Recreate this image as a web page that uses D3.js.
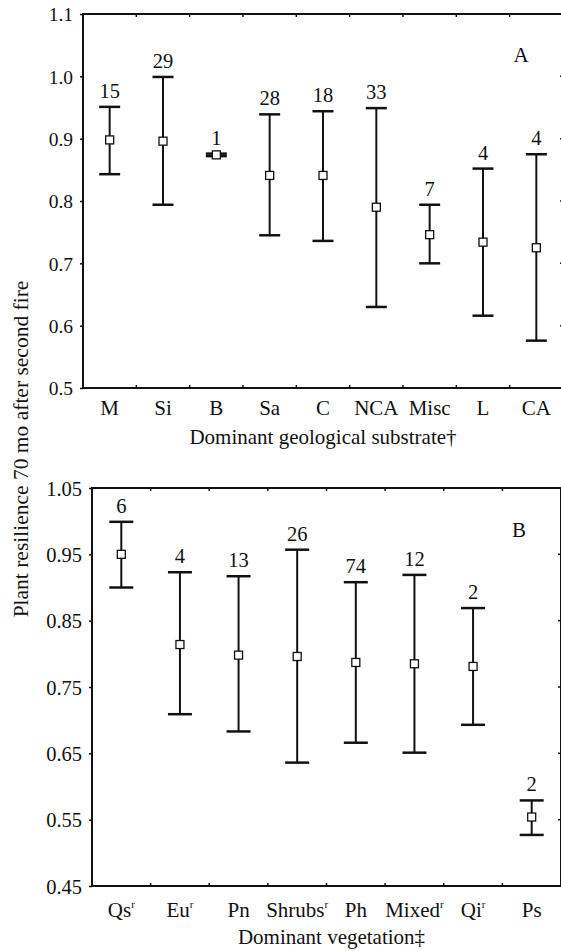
<!DOCTYPE html>
<html>
<head>
<meta charset="utf-8">
<script src="https://cdn.jsdelivr.net/npm/d3@7"></script>
<style>
  body { margin: 0; background: #fff; }
  svg { display: block; }
  text { font-family: "Liberation Serif", "Times New Roman", serif; fill: #111; }
</style>
</head>
<body>
<div id="chart"></div>
<script>
// panel A: geological substrate
var substrate = ['M', 'Si', 'B', 'Sa', 'C', 'NCA', 'Misc', 'L', 'CA']
var substrateMean = [0.898, 0.896, 0.874, 0.841, 0.841, 0.790, 0.746, 0.734, 0.725]
var substrateHigh = [0.951, 0.999, 0.876, 0.939, 0.944, 0.949, 0.794, 0.852, 0.875]
var substrateLow  = [0.843, 0.794, 0.872, 0.745, 0.736, 0.630, 0.700, 0.616, 0.576]
var substrateN    = [15, 29, 1, 28, 18, 33, 7, 4, 4]
var substrateTicks = [0.5, 0.6, 0.7, 0.8, 0.9, 1.0, 1.1]

// panel B: vegetation (r = superscript mark)
var vegetation = ['Qs', 'Eu', 'Pn', 'Shrubs', 'Ph', 'Mixed', 'Qi', 'Ps']
var vegetationSup = ['r', 'r', '', 'r', '', 'r', 'r', '']
var vegetationMean = [0.950, 0.814, 0.798, 0.796, 0.787, 0.785, 0.781, 0.554]
var vegetationHigh = [0.999, 0.923, 0.917, 0.957, 0.908, 0.919, 0.869, 0.579]
var vegetationLow  = [0.900, 0.709, 0.683, 0.636, 0.666, 0.651, 0.693, 0.527]
var vegetationN    = [6, 4, 13, 26, 74, 12, 2, 2]
var vegetationTicks = [0.45, 0.55, 0.65, 0.75, 0.85, 0.95, 1.05]

const W = 561, H = 951

const svg = d3.select('#chart').append('svg')
    .attr('width', W)
    .attr('height', H)

function drawPanel(opt) {
    const g = svg.append('g')

    const x = d3.scaleBand()
        .domain(opt.cats)
        .range([opt.left, opt.right])
        .padding(0)

    const y = d3.scaleLinear()
        .domain(opt.domain)
        .range([opt.bottom, opt.top])

    // left axis, small outward ticks
    const yAxis = d3.axisLeft(y)
        .tickValues(opt.ticks)
        .tickFormat(opt.fmt)
        .tickSize(3)
        .tickPadding(7)
    const ya = g.append('g')
        .attr('transform', `translate(${opt.left},0)`)
        .call(yAxis)
        .attr('font-family', null)
    ya.select('.domain').remove()
    ya.selectAll('line').attr('stroke', '#111').attr('stroke-width', 1.5)
    ya.selectAll('text').attr('font-size', opt.tickFont).attr('dy', '0.35em')

    // right side inner ticks
    g.selectAll('.rtick')
        .data(opt.ticks.slice(1, -1))
        .enter()
        .append('line')
        .attr('x1', opt.right - 3)
        .attr('x2', opt.right)
        .attr('y1', d => y(d))
        .attr('y2', d => y(d))
        .attr('stroke', '#111')
        .attr('stroke-width', 1.5)

    // ticks between categories, top and bottom, inward
    const bounds = opt.cats.slice(1).map(c => x(c))
    g.selectAll('.btick')
        .data(bounds)
        .enter()
        .append('line')
        .attr('x1', d => d).attr('x2', d => d)
        .attr('y1', opt.bottom).attr('y2', opt.bottom - 3)
        .attr('stroke', '#111').attr('stroke-width', 1.5)
    g.selectAll('.ttick')
        .data(bounds)
        .enter()
        .append('line')
        .attr('x1', d => d).attr('x2', d => d)
        .attr('y1', opt.top).attr('y2', opt.top + 3)
        .attr('stroke', '#111').attr('stroke-width', 1.5)

    // frame
    g.append('rect')
        .attr('x', opt.left)
        .attr('y', opt.top)
        .attr('width', opt.right - opt.left)
        .attr('height', opt.bottom - opt.top)
        .attr('fill', 'none')
        .attr('stroke', '#111')
        .attr('stroke-width', 2)

    const cx = d => x(d) + x.bandwidth() / 2
    const capW = opt.capW

    const bars = g.selectAll('.bar')
        .data(opt.cats)
        .enter()
        .append('g')

    bars.append('line')
        .attr('x1', cx).attr('x2', cx)
        .attr('y1', (d, i) => y(opt.high[i]))
        .attr('y2', (d, i) => y(opt.low[i]))
        .attr('stroke', '#111').attr('stroke-width', 2)
    bars.append('line')
        .attr('x1', d => cx(d) - capW).attr('x2', d => cx(d) + capW)
        .attr('y1', (d, i) => y(opt.high[i]))
        .attr('y2', (d, i) => y(opt.high[i]))
        .attr('stroke', '#111').attr('stroke-width', 2.5)
    bars.append('line')
        .attr('x1', d => cx(d) - capW).attr('x2', d => cx(d) + capW)
        .attr('y1', (d, i) => y(opt.low[i]))
        .attr('y2', (d, i) => y(opt.low[i]))
        .attr('stroke', '#111').attr('stroke-width', 2.5)
    bars.append('rect')
        .attr('x', d => cx(d) - 4)
        .attr('y', (d, i) => y(opt.mean[i]) - 4)
        .attr('width', 8).attr('height', 8)
        .attr('fill', '#fff')
        .attr('stroke', '#111').attr('stroke-width', 1.3)
    bars.append('text')
        .attr('x', cx)
        .attr('y', (d, i) => y(opt.high[i]) - 9)
        .attr('text-anchor', 'middle')
        .attr('font-size', 20.5)
        .text((d, i) => opt.n[i])

    // category labels
    const lab = g.selectAll('.cat')
        .data(opt.cats)
        .enter()
        .append('text')
        .attr('x', cx)
        .attr('y', opt.bottom + opt.catGap)
        .attr('text-anchor', 'middle')
        .attr('font-size', 21)
    lab.append('tspan').text(d => d)
    lab.append('tspan')
        .attr('font-size', 11)
        .attr('dy', -9)
        .text((d, i) => opt.sup ? opt.sup[i] : '')

    // axis title
    g.append('text')
        .attr('x', (opt.left + opt.right) / 2 + opt.titleShift)
        .attr('y', opt.bottom + opt.titleGap)
        .attr('text-anchor', 'middle')
        .attr('font-size', 21)
        .text(opt.title)

    // panel letter
    g.append('text')
        .attr('x', opt.letterX)
        .attr('y', opt.letterY)
        .attr('text-anchor', 'middle')
        .attr('font-size', 21)
        .text(opt.letter)
}

drawPanel({
    cats: substrate, mean: substrateMean, high: substrateHigh, low: substrateLow,
    n: substrateN, ticks: substrateTicks, fmt: d3.format('.1f'), tickFont: 19.5,
    domain: [0.5, 1.1], left: 83, right: 563, top: 14, bottom: 388, capW: 10.5,
    catGap: 27, titleGap: 56,
    title: 'Dominant geological substrate\u2020', titleShift: 0,
    letter: 'A', letterX: 521, letterY: 62
})

drawPanel({
    cats: vegetation, sup: vegetationSup, mean: vegetationMean, high: vegetationHigh, low: vegetationLow,
    n: vegetationN, ticks: vegetationTicks, fmt: d3.format('.2f'), tickFont: 20.5,
    domain: [0.45, 1.05], left: 92, right: 561, top: 488, bottom: 886, capW: 12,
    catGap: 31, titleGap: 58,
    title: 'Dominant vegetation\u2021', titleShift: 5,
    letter: 'B', letterX: 519, letterY: 537
})

// shared y-axis title
svg.append('text')
    .attr('transform', 'translate(28,449) rotate(-90)')
    .attr('text-anchor', 'middle')
    .attr('font-size', 21.5)
    .text('Plant resilience 70 mo after second fire')
</script>
</body>
</html>
